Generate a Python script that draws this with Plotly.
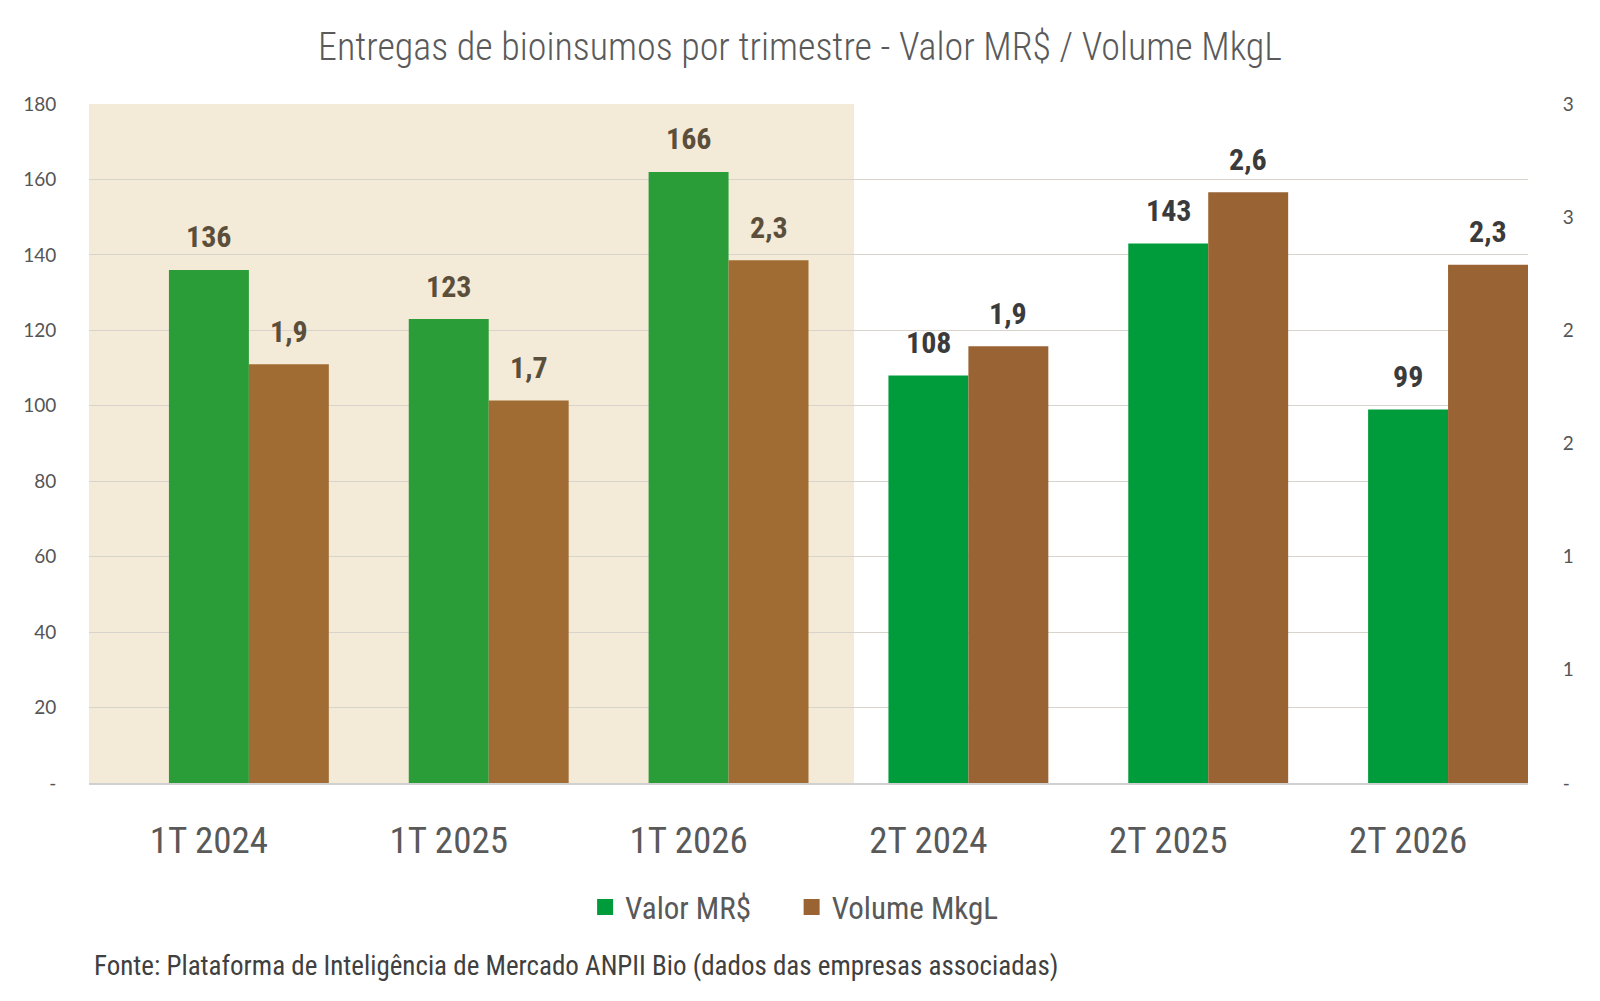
import plotly.graph_objects as go

categories = ["1T 2024", "1T 2025", "1T 2026", "2T 2024", "2T 2025", "2T 2026"]
valor = [136, 123, 162, 108, 143, 99]
valor_labels = ["136", "123", "166", "108", "143", "99"]
volume = [1.85, 1.69, 2.31, 1.93, 2.61, 2.29]
volume_labels = ["1,9", "1,7", "2,3", "1,9", "2,6", "2,3"]
left_ticks = [0, 20, 40, 60, 80, 100, 120, 140, 160, 180]
left_ticktext = ["-", "20", "40", "60", "80", "100", "120", "140", "160", "180"]
right_ticks = [0, 0.5, 1.0, 1.5, 2.0, 2.5, 3.0]
right_ticktext = ["-", "1", "1", "2", "2", "3", "3"]

NARROW = "Liberation Sans Narrow, Roboto Condensed, Roboto, sans-serif"
TICKF = "Lato, Open Sans, sans-serif"

x = list(range(len(categories)))
is_first = [c.startswith("1T") for c in categories]
green = ["#2a9d38" if f else "#009b3a" for f in is_first]
brown = ["#a06c33" if f else "#9a6334" for f in is_first]
lab_col = ["#5b4f3b" if f else "#3b3b3b" for f in is_first]

fig = go.Figure()
fig.add_trace(go.Bar(x=x, y=valor, name="Valor MR$", marker=dict(color=green, line=dict(width=0)),
                     width=1/3, offset=-1/6, yaxis="y", showlegend=False))
fig.add_trace(go.Bar(x=x, y=volume, name="Volume MkgL", marker=dict(color=brown, line=dict(width=0)),
                     width=1/3, offset=1/6, yaxis="y2", showlegend=False))
# legend entries with larger square markers
fig.add_trace(go.Scatter(x=[None], y=[None], mode="markers", name="Valor MR$     ",
                         marker=dict(symbol="square", size=19, color="#009b3a")))
fig.add_trace(go.Scatter(x=[None], y=[None], mode="markers", name="Volume MkgL",
                         marker=dict(symbol="square", size=19, color="#9a6334")))

for i in x:
    fig.add_annotation(x=i, y=valor[i], text=valor_labels[i], showarrow=False, yref="y",
                       yanchor="middle", yshift=33,
                       font=dict(family=NARROW, size=30, color=lab_col[i], weight="bold"))
    fig.add_annotation(x=i + 1/3, y=volume[i], text=volume_labels[i], showarrow=False, yref="y2",
                       yanchor="middle", yshift=33,
                       font=dict(family=NARROW, size=30, color=lab_col[i], weight="bold"))

fig.add_shape(type="rect", xref="x", yref="paper", x0=-0.5, x1=2.69, y0=0, y1=1,
              fillcolor="#f3ead7", line=dict(width=0), layer="below")

fig.add_annotation(text="Fonte: Plataforma de Inteligência de Mercado ANPII Bio (dados das empresas associadas)",
                   xref="paper", yref="paper", x=0.002, y=-0.27, xanchor="left", yanchor="middle",
                   showarrow=False, font=dict(family=NARROW, size=27, color="#404040"))

fig.update_layout(
    width=1600, height=1001,
    margin=dict(l=89, r=72, t=104, b=218),
    paper_bgcolor="white", plot_bgcolor="rgba(0,0,0,0)",
    barmode="overlay",
    title=dict(text="Entregas de bioinsumos por trimestre - Valor MR$ / Volume MkgL",
               x=0.5, xanchor="center", y=1 - 47/1001, yanchor="middle",
               font=dict(family=NARROW, size=38, color="#5a5a5a", weight=300)),
    xaxis=dict(range=[-0.5, 5.5], tickvals=x, ticktext=categories, showgrid=False,
               ticks="outside", ticklen=24, tickcolor="rgba(0,0,0,0)",
               tickfont=dict(family=NARROW, size=37, color="#595959"),
               showline=True, linecolor="#d0d0d0", linewidth=2, zeroline=False),
    yaxis=dict(range=[0, 180], tickvals=left_ticks, ticktext=left_ticktext,
               showgrid=True, gridcolor="#d9d4cb", gridwidth=1, zeroline=False,
               ticks="outside", ticklen=28, tickcolor="rgba(0,0,0,0)",
               tickfont=dict(family=TICKF, size=19, color="#555555")),
    yaxis2=dict(range=[0, 3], tickvals=right_ticks, ticktext=right_ticktext, overlaying="y", side="right",
                showgrid=False, zeroline=False,
                ticks="outside", ticklen=30, tickcolor="rgba(0,0,0,0)",
                tickfont=dict(family=TICKF, size=19, color="#555555")),
    legend=dict(orientation="h", x=0.49, xanchor="center", y=-0.183, yanchor="middle",
                font=dict(family=NARROW, size=31, color="#595959"), itemwidth=30,
                bgcolor="rgba(0,0,0,0)"),
    showlegend=True,
)

fig.write_html("out.html")
